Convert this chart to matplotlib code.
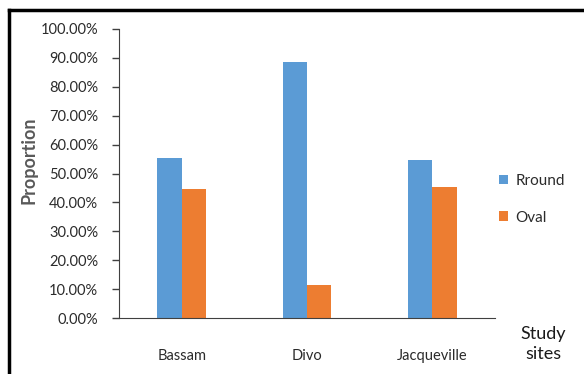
import numpy as np
import matplotlib
matplotlib.use("Agg")
import matplotlib.pyplot as plt
from matplotlib.lines import Line2D
from matplotlib.ticker import PercentFormatter

sites = ["Bassam", "Divo", "Jacqueville"]
rround = [55.3, 88.6, 54.8]
oval = [44.7, 11.4, 45.2]

blue = '#5b9bd5'
orange = '#ed7d31'
grey = '#595959'

plt.rcParams['font.family'] = ['Lato', 'DejaVu Sans']

fig = plt.figure(figsize=(5.84, 3.74), dpi=100)
ax = fig.add_axes([119/584, 1 - 318/374, 376/584, 289/374])

x = np.arange(len(sites))
w = 0.195
ax.bar(x - w/2, rround, w, color=blue, label='Rround')
ax.bar(x + w/2, oval, w, color=orange, label='Oval')

ax.set_xlim(-0.5, 2.5)
ax.set_ylim(0, 100)
ax.set_yticks(np.arange(0, 101, 10))
ax.yaxis.set_major_formatter(PercentFormatter(decimals=2))
ax.set_xticks(x)
ax.set_xticklabels(sites)

for s in ['top', 'right']:
    ax.spines[s].set_visible(False)
ax.spines['left'].set_color('#404040')
ax.spines['bottom'].set_color('#404040')
ax.tick_params(axis='y', direction='out', length=5, width=1, color='#404040',
               labelsize=10.5, labelcolor='#2b2b2b', pad=10)
ax.tick_params(axis='x', length=0, labelsize=10.5, labelcolor='#2b2b2b', pad=22)

fig.text(29/584, 1 - 160/374, 'Proportion', rotation=90, ha='center', va='center',
         fontsize=13, color=grey, fontweight='bold')
fig.text(543/584, 1 - 344/374, 'Study\nsites', ha='center', va='center',
         fontsize=13, color='#1a1a1a', linespacing=1.35)

ax.legend(loc='upper left', bbox_to_anchor=(485/584, 1 - 160/374),
          bbox_transform=fig.transFigure, frameon=False, fontsize=11,
          handlelength=0.6, handleheight=0.6, handletextpad=0.5, labelspacing=1.5,
          labelcolor='#2b2b2b')

# frame lines on the left and top
fig.add_artist(Line2D([9/584, 9/584], [0, 1 - 10/374], color='black', lw=2.5,
                      transform=fig.transFigure))
fig.add_artist(Line2D([9/584, 1], [1 - 10/374, 1 - 10/374], color='black', lw=2.5,
                      transform=fig.transFigure))

fig.savefig('out.png', dpi=100)
